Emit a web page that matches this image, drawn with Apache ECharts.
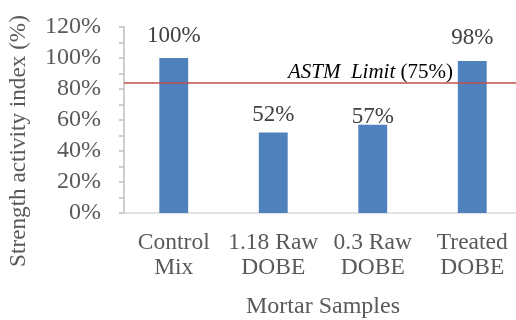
<!DOCTYPE html>
<html><head><meta charset="utf-8">
<script src="https://cdn.jsdelivr.net/npm/echarts@6/dist/echarts.min.js"></script>
<style>html,body{margin:0;padding:0;background:#fff}#c{width:516px;height:320px}</style>
</head><body><div id="c"></div>
<script>
const categories = ['Control\nMix', '1.18 Raw\nDOBE', '0.3 Raw\nDOBE', 'Treated\nDOBE'];
const values = [100, 52, 57, 98];
const astmLineValue = 84;
const astmLabel = 'ASTM  Limit';
const astmSuffix = ' (75%)';
const yAxisName = 'Strength activity index (%)';
const xAxisName = 'Mortar Samples';

const font = '"Liberation Serif", "Times New Roman", serif';
const labelGaps = [11, 6, -4, 12];
const chart = echarts.init(document.getElementById('c'), null, {renderer: 'canvas'});
chart.setOption({
  animation: false,
  textStyle: {fontFamily: font},
  grid: {left: 124, top: 27, bottom: 107, right: -6, containLabel: false, outerBoundsMode: 'none'},
  xAxis: {
    type: 'category',
    data: categories,
    axisLine: {lineStyle: {color: '#d9d9d9', width: 1.5}},
    axisTick: {show: false},
    axisLabel: {color: '#595959', fontSize: 23.5, fontFamily: font, margin: 17, lineHeight: 25, interval: 0},
    name: xAxisName,
    nameLocation: 'middle',
    nameGap: 82,
    nameTextStyle: {color: '#595959', fontSize: 24, fontFamily: font}
  },
  yAxis: {
    type: 'value',
    min: 0, max: 120, interval: 20,
    axisLine: {show: true, lineStyle: {color: '#bfbfbf', width: 1.5}},
    axisTick: {show: true, length: 5, lineStyle: {color: '#bfbfbf', width: 1.5}},
    minorTick: {show: true, splitNumber: 2, length: 5, lineStyle: {color: '#bfbfbf', width: 1.5}},
    splitLine: {show: false},
    axisLabel: {color: '#595959', fontSize: 24, fontFamily: font, margin: 23, formatter: '{value}%'},
    name: yAxisName,
    nameLocation: 'middle',
    nameGap: 94,
    nameTextStyle: {color: '#595959', fontSize: 23.2, fontFamily: font, padding: [0, 42, 0, 0]}
  },
  series: [{
    type: 'bar',
    data: values.map((v, i) => ({value: v, label: {distance: labelGaps[i]}})),
    barWidth: '29%',
    itemStyle: {color: '#4f81bd'},
    label: {show: true, position: 'top', distance: 12, color: '#404040', fontSize: 23, fontFamily: font, formatter: '{c}%'},
    markLine: {
      silent: true,
      symbol: 'none',
      lineStyle: {color: '#c0504d', width: 1.5, type: 'solid'},
      label: {
        show: true,
        position: 'insideEndTop',
        distance: [69, 0],
        formatter: '{i|' + astmLabel + '}{n|' + astmSuffix + '}',
        rich: {
          i: {fontStyle: 'italic', fontSize: 21, color: '#000', fontFamily: font},
          n: {fontSize: 21, color: '#000', fontFamily: font}
        }
      },
      data: [{yAxis: astmLineValue}]
    }
  }]
});
</script></body></html>
